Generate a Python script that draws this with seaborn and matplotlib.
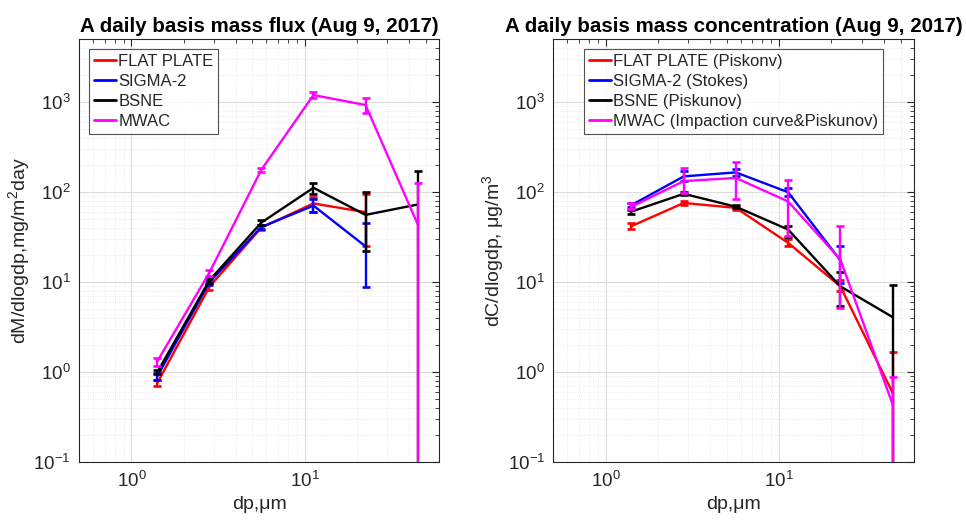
import numpy as np
import pandas as pd
import matplotlib
matplotlib.use("Agg")
import matplotlib.pyplot as plt
from matplotlib.ticker import LogLocator, NullFormatter, LogFormatterMathtext
import seaborn as sns

# Particle size bins (aerodynamic diameter, um)
dp = [1.41, 2.82, 5.63, 11.25, 22.5, 45.0]

samplers = ["FLAT PLATE", "SIGMA-2", "BSNE", "MWAC"]
colors = ["#ff0000", "#0000ff", "#000000", "#ff00ff"]

# Daily mass flux dM/dlogdp (mg/m^2/day): value, lower and upper error limits
flux_flat = [0.76, 8.9, 40.5, 75, 60, np.nan]
flux_flat_lo = [0.70, 8.2, 38, 60, 25, np.nan]
flux_flat_hi = [0.82, 9.6, 43, 89, 95, np.nan]

flux_sigma = [0.90, 10.0, 41, 71, 25, np.nan]
flux_sigma_lo = [0.82, 9.3, 39, 60, 8.8, np.nan]
flux_sigma_hi = [0.98, 10.7, 43, 85, 46, np.nan]

flux_bsne = [1.0, 10.5, 46, 112, 56, 73]
flux_bsne_lo = [0.95, 9.9, 43, 96, 22.4, 0]
flux_bsne_hi = [1.07, 11.1, 49, 128, 100, 170]

flux_mwac = [1.32, 12.8, 178, 1200, 930, 44]
flux_mwac_lo = [1.18, 11.8, 168, 1120, 750, 0]
flux_mwac_hi = [1.45, 13.8, 188, 1290, 1120, 127]

# Daily mass concentration dC/dlogdp (ug/m^3): value, lower and upper error limits
conc_flat = [42, 76, 67, 27.4, 9.0, 0.59]
conc_flat_lo = [39, 72, 64, 25, 8.0, 0]
conc_flat_hi = [45, 80, 70, 30, 10.5, 1.7]

conc_sigma = [72, 150, 166, 100, 17.5, np.nan]
conc_sigma_lo = [68, 132, 150, 90, 9.8, np.nan]
conc_sigma_hi = [76, 172, 182, 112, 25, np.nan]

conc_bsne = [61, 96, 69, 38.5, 9.0, 4.1]
conc_bsne_lo = [58, 92, 66, 32, 5.4, 0]
conc_bsne_hi = [64, 100, 72, 42, 12.9, 9.3]

conc_mwac = [69, 133, 144, 79, 17.9, 0.44]
conc_mwac_lo = [65, 98, 85, 32.5, 5.2, 0]
conc_mwac_hi = [75, 186, 218, 135, 42, 0.89]

flux_legend = ["FLAT PLATE", "SIGMA-2", "BSNE", "MWAC"]
conc_legend = ["FLAT PLATE (Piskonv)", "SIGMA-2 (Stokes)", "BSNE (Piskunov)",
               "MWAC (Impaction curve&Piskunov)"]

sns.set_theme(style="white")
plt.rcParams["font.family"] = ["Liberation Sans", "DejaVu Sans"]
plt.rcParams["mathtext.fontset"] = "custom"
plt.rcParams["mathtext.rm"] = "Liberation Sans"
plt.rcParams["mathtext.it"] = "Liberation Sans:italic"
plt.rcParams["mathtext.bf"] = "Liberation Sans:bold"

AXC = "#262626"


def build_frame(vals, los, his):
    rows = []
    for name, v, lo, hi in zip(samplers, vals, los, his):
        for x, y, l, h in zip(dp, v, lo, hi):
            rows.append({"dp": x, "value": y, "lo": l, "hi": h, "sampler": name})
    return pd.DataFrame(rows)


def draw_panel(ax, df, labels, title, ylabel, legend_loc, legend_anchor):
    handles = []
    for i, (name, col) in enumerate(zip(samplers, colors)):
        sub = df[df["sampler"] == name].dropna(subset=["value"])
        sns.lineplot(data=sub, x="dp", y="value", color=col, lw=1.7,
                     ax=ax, legend=False, zorder=3 + i, estimator=None,
                     sort=False)
        err = np.vstack([sub["value"] - sub["lo"], sub["hi"] - sub["value"]])
        ax.errorbar(sub["dp"], sub["value"], yerr=err, fmt="none",
                    ecolor=col, elinewidth=1.7, capsize=3, capthick=1.9,
                    zorder=3 + i)
        handles.append(plt.Line2D([], [], color=col, lw=2))

    ax.set_xscale("log")
    ax.set_yscale("log")
    ax.set_xlim(0.5, 60)
    ax.set_ylim(0.1, 5000)

    ax.xaxis.set_major_locator(LogLocator(base=10, numticks=10))
    ax.yaxis.set_major_locator(LogLocator(base=10, numticks=10))
    ax.xaxis.set_minor_locator(LogLocator(base=10, subs=np.arange(2, 10), numticks=20))
    ax.yaxis.set_minor_locator(LogLocator(base=10, subs=np.arange(2, 10), numticks=20))
    ax.xaxis.set_major_formatter(LogFormatterMathtext())
    ax.yaxis.set_major_formatter(LogFormatterMathtext())
    ax.xaxis.set_minor_formatter(NullFormatter())
    ax.yaxis.set_minor_formatter(NullFormatter())

    ax.grid(True, which="major", color="#dcdcdc", lw=0.8, ls="-", zorder=0)
    ax.grid(True, which="minor", color="#e6e6e6", lw=0.6, ls=":", zorder=0)
    ax.set_axisbelow(True)

    ax.tick_params(which="both", direction="in", top=True, right=True,
                   colors=AXC, labelcolor=AXC, labelsize=13.5)
    ax.tick_params(which="major", length=5, width=0.8, pad=6)
    ax.tick_params(which="minor", length=3, width=0.6)
    for s in ax.spines.values():
        s.set_color(AXC)
        s.set_linewidth(0.8)

    ax.set_xlabel("dp,μm", fontsize=14, color=AXC, labelpad=4)
    ax.set_ylabel(ylabel, fontsize=14, color=AXC, labelpad=1)
    ax.set_title(title, fontsize=14.8, fontweight="bold", color="black", pad=5)

    leg = ax.legend(handles, labels, loc=legend_loc, bbox_to_anchor=legend_anchor,
                    fontsize=12, frameon=True, fancybox=False, handlelength=1.3,
                    handletextpad=0.15, labelspacing=0.3, borderpad=0.3,
                    borderaxespad=0.0)
    leg.get_frame().set_edgecolor(AXC)
    leg.get_frame().set_linewidth(0.8)
    leg.set_zorder(10)


fig = plt.figure(figsize=(9.66, 5.23), dpi=100)
ax1 = fig.add_axes([0.0821, 0.1161, 0.3727, 0.8088])
ax2 = fig.add_axes([0.5728, 0.1161, 0.3737, 0.8088])

flux_df = build_frame([flux_flat, flux_sigma, flux_bsne, flux_mwac],
                      [flux_flat_lo, flux_sigma_lo, flux_bsne_lo, flux_mwac_lo],
                      [flux_flat_hi, flux_sigma_hi, flux_bsne_hi, flux_mwac_hi])
conc_df = build_frame([conc_flat, conc_sigma, conc_bsne, conc_mwac],
                      [conc_flat_lo, conc_sigma_lo, conc_bsne_lo, conc_mwac_lo],
                      [conc_flat_hi, conc_sigma_hi, conc_bsne_hi, conc_mwac_hi])

draw_panel(ax1, flux_df, flux_legend, "A daily basis mass flux (Aug 9, 2017)",
           "dM/dlogdp,mg/m$^2$day", "upper left", (0.027, 0.978))
draw_panel(ax2, conc_df, conc_legend, "A daily basis mass concentration (Aug 9, 2017)",
           "dC/dlogdp, μg/m$^3$", "upper center", (0.5, 0.978))

fig.savefig("out.png", dpi=100)
